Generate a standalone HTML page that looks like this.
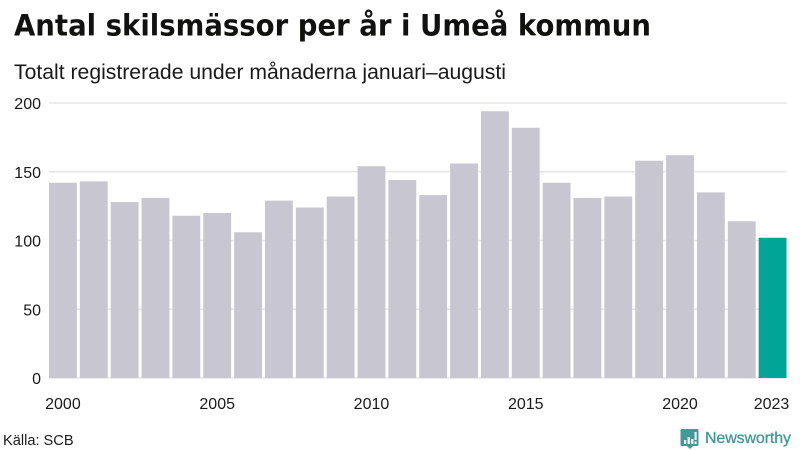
<!DOCTYPE html>
<html lang="sv">
<head>
<meta charset="utf-8">
<title>Antal skilsmässor per år i Umeå kommun</title>
<style>
html,body{margin:0;padding:0;background:#fff;}
body{width:800px;height:450px;overflow:hidden;}
svg{display:block;}
text{font-family:"Liberation Sans",sans-serif;fill:#1a1a18;}
</style>
</head>
<body>
<svg id="chart" width="800" height="450" viewBox="0 0 800 450" xmlns="http://www.w3.org/2000/svg">
  <text x="14" y="35.5" textLength="637" lengthAdjust="spacingAndGlyphs" style="font-family:'DejaVu Sans',sans-serif;font-weight:700;font-size:29.5px;fill:#11110f;">Antal skilsmässor per år i Umeå kommun</text>
  <text x="14" y="79" textLength="492" lengthAdjust="spacingAndGlyphs" style="font-size:21.2px;">Totalt registrerade under månaderna januari–augusti</text>
  <g id="grid"></g>
  <g id="bars"></g>
  <g id="xlabels"></g>
  <text x="3" y="445" style="font-size:14.6px;">Källa: SCB</text>
  <g>
    <path d="M682 429h15a1.5 1.5 0 0 1 1.5 1.5v14a1.5 1.5 0 0 1-1.5 1.5h-4l-3 3-3-3h-5a1.5 1.5 0 0 1-1.5-1.5v-14a1.5 1.5 0 0 1 1.5-1.5z" fill="#3f9a99"/>
    <rect x="684" y="440" width="2.2" height="4" fill="#fff"/>
    <rect x="687.6" y="437" width="2.2" height="7" fill="#fff"/>
    <rect x="691.2" y="439" width="2.2" height="5" fill="#fff"/>
    <rect x="694.6" y="432" width="2" height="8" fill="#fff"/>
    <rect x="694.6" y="441.5" width="2" height="2.5" fill="#fff"/>
    <text x="705" y="443" textLength="86" style="font-size:16px;font-weight:400;fill:#3f9a99;stroke:#3f9a99;stroke-width:0.3;">Newsworthy</text>
  </g>
</svg>
<script>
const years = [2000,2001,2002,2003,2004,2005,2006,2007,2008,2009,2010,2011,2012,2013,2014,2015,2016,2017,2018,2019,2020,2021,2022,2023];
const divorces = [142,143,128,131,118,120,106,129,124,132,154,144,133,156,194,182,142,131,132,158,162,135,114,102];
const yTicks = [0,50,100,150,200];
const xTicks = [2000,2005,2010,2015,2020,2023];

const NS = 'http://www.w3.org/2000/svg';
const plotLeft = 49, plotRight = 786.5, plotBottom = 378, plotTop = 103, yMax = 200, gap = 3;
const step = (plotRight - plotLeft + gap) / years.length;
function yScale(v){ return plotBottom - (v / yMax) * (plotBottom - plotTop); }
function xScale(i){ return plotLeft + i * step; }
function make(tag, attrs){
  const el = document.createElementNS(NS, tag);
  for (const k in attrs) el.setAttribute(k, attrs[k]);
  return el;
}

const grid = document.getElementById('grid');
yTicks.forEach(function(t){
  const line = make('line', {x1: plotLeft, x2: plotRight, y1: yScale(t), y2: yScale(t), stroke: '#e6e6e6', 'stroke-width': 1.5});
  
  
  grid.appendChild(line);
  const label = make('text', {x: 41, y: yScale(t) + 6, 'text-anchor': 'end', 'font-size': 16});
  
  
  label.textContent = t;
  grid.appendChild(label);
});

const bars = document.getElementById('bars');
years.forEach(function(year, i){
  const top = yScale(divorces[i]);
  const bar = make('rect', {
    x: xScale(i), y: top, width: step - gap, height: plotBottom - top,
    fill: i === years.length - 1 ? '#00a598' : '#c8c6d1'
  });
  
  
  bars.appendChild(bar);
});

const xlabels = document.getElementById('xlabels');
xTicks.forEach(function(year){
  const i = years.indexOf(year);
  const center = xScale(i) + (step - gap) / 2;
  const label = make('text', {x: Math.min(center, 771.5), y: 409, 'text-anchor': 'middle', 'font-size': 16});
  
  
  label.textContent = year;
  xlabels.appendChild(label);
});
</script>
</body>
</html>
